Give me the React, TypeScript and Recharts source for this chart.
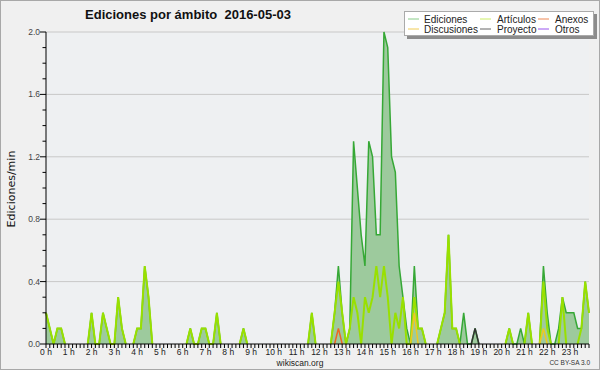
import React from "react";
import { ComposedChart, Area, Line, XAxis, YAxis, CartesianGrid } from "recharts";

// Ediciones por minuto, un valor cada 10 minutos (6 por hora, 144 en el día)
const ediciones = [
  0.2, 0.1, 0, 0.1, 0.1, 0, 0, 0, 0, 0, 0, 0,
  0.2, 0, 0, 0.2, 0.1, 0, 0, 0.3, 0.1, 0, 0, 0,
  0.1, 0.1, 0.5, 0.3, 0, 0, 0, 0, 0, 0, 0, 0,
  0, 0, 0.1, 0, 0, 0.1, 0.1, 0, 0, 0.2, 0, 0,
  0, 0, 0, 0, 0.1, 0, 0, 0, 0, 0, 0, 0,
  0, 0, 0, 0, 0, 0, 0, 0, 0, 0, 0.2, 0,
  0, 0, 0, 0, 0.2, 0.5, 0.2, 0, 0.1, 1.3, 1.0, 0.7,
  0.5, 1.3, 1.2, 0.7, 0.7, 2.0, 1.9, 1.2, 1.1, 0.5, 0.3, 0.1,
  0, 0.5, 0.1, 0.1, 0, 0, 0, 0, 0.1, 0.2, 0.7, 0.1,
  0.1, 0, 0.2, 0, 0, 0.1, 0, 0, 0, 0, 0, 0,
  0, 0, 0.1, 0, 0, 0.1, 0, 0.2, 0, 0, 0, 0.5,
  0.2, 0, 0, 0.1, 0.3, 0.2, 0.2, 0.2, 0.1, 0.1, 0.4, 0.2,
];

const articulos = [
  0.2, 0.1, 0, 0.1, 0.1, 0, 0, 0, 0, 0, 0, 0,
  0.2, 0, 0, 0.2, 0.1, 0, 0, 0.3, 0.1, 0, 0, 0,
  0.1, 0.1, 0.5, 0.3, 0, 0, 0, 0, 0, 0, 0, 0,
  0, 0, 0.1, 0, 0, 0.1, 0.1, 0, 0, 0.2, 0, 0,
  0, 0, 0, 0, 0.1, 0, 0, 0, 0, 0, 0, 0,
  0, 0, 0, 0, 0, 0, 0, 0, 0, 0, 0.2, 0,
  0, 0, 0, 0, 0.2, 0.4, 0.2, 0, 0.1, 0.3, 0.2, 0,
  0.3, 0.2, 0.3, 0.5, 0.3, 0.5, 0.3, 0, 0.2, 0.1, 0.3, 0,
  0, 0.3, 0.1, 0.1, 0, 0, 0, 0, 0.1, 0.2, 0.7, 0.1,
  0.1, 0, 0, 0, 0, 0, 0, 0, 0, 0, 0, 0,
  0, 0, 0.1, 0, 0, 0, 0, 0.2, 0, 0, 0, 0.4,
  0.1, 0, 0, 0, 0.3, 0, 0, 0, 0, 0.1, 0.4, 0.2,
];

// series casi vacías: [índice, valor]
const anexosPts: [number, number][] = [[77, 0.1]];
const discusionesPts: [number, number][] = [[97, 0.2], [131, 0.1]];
const proyectoPts: [number, number][] = [[113, 0.1]];
const otrosPts: [number, number][] = [];

const hourLabels = Array.from({ length: 24 }, (_, h) => `${h} h`);
const yMajor = [0, 0.4, 0.8, 1.2, 1.6, 2.0];
const yTicks = Array.from({ length: 21 }, (_, k) => k / 10);
const slotTicks = ediciones.map((_, i) => i);

const legendItems = [
  { name: "Ediciones", color: "#88cc88" },
  { name: "Discusiones", color: "#f0cc55" },
  { name: "Artículos", color: "#ccee66" },
  { name: "Proyecto", color: "#666666" },
  { name: "Anexos", color: "#ee8855" },
  { name: "Otros", color: "#9955ee" },
];

const fromPts = (pts: [number, number][]) => {
  const arr = ediciones.map(() => 0);
  pts.forEach(([i, v]) => (arr[i] = v));
  return arr;
};

// keep zeros only next to a non zero value, so nothing runs along the baseline
const trim = (arr: number[], i: number) =>
  arr[i] > 0 || (arr[i - 1] ?? 0) > 0 || (arr[i + 1] ?? 0) > 0 ? arr[i] : null;

const anexos = fromPts(anexosPts);
const discusiones = fromPts(discusionesPts);
const proyecto = fromPts(proyectoPts);
const otros = fromPts(otrosPts);

const data = ediciones.map((_, i) => ({
  slot: i,
  ed: trim(ediciones, i),
  art: trim(articulos, i),
  anx: trim(anexos, i),
  dis: trim(discusiones, i),
  pro: trim(proyecto, i),
  otr: trim(otros, i),
}));

const FONT = "'Liberation Sans', Arial, sans-serif";

const XTick = (props: any) => {
  const { x, y, payload } = props;
  const v = payload.value as number;
  return (
    <g>
      <line x1={x} x2={x} y1={y} y2={y + 4} stroke="#000" strokeWidth={1} />
      {v % 6 === 0 && (
        <text x={x} y={y + 10.5} textAnchor="middle" fontSize={8.5} fontFamily={FONT} fill="#222">
          {hourLabels[v / 6]}
        </text>
      )}
    </g>
  );
};

const YTick = (props: any) => {
  const { x, y, payload } = props;
  const v = payload.value as number;
  const major = yMajor.some((m) => Math.abs(m - v) < 1e-6);
  return (
    <g>
      <line x1={x - (major ? 6 : 3.5)} x2={x} y1={y} y2={y} stroke="#000" strokeWidth={1} />
      {major && (
        <text x={x - 6} y={y + 3} textAnchor="end" fontSize={8.5} fontFamily={FONT} fill="#444">
          {v.toFixed(1)}
        </text>
      )}
    </g>
  );
};

export default function App() {
  return (
    <div
      style={{
        position: "fixed",
        left: 0,
        top: 0,
        width: 600,
        height: 370,
        background: "#f0f0f0",
        boxSizing: "border-box",
        border: "1px solid #a8a8a8",
      }}
    >
      <div style={{ position: "absolute", left: -1, top: -1 }}>
        <ComposedChart width={600} height={370} data={data} margin={{ top: 32, right: 11, bottom: 6, left: 6 }}>
          <CartesianGrid
            vertical={false}
            horizontalValues={[0.4, 0.8, 1.2, 1.6, 2.0]}
            stroke="#c8c8c8"
            fill="#eef0f2"
            fillOpacity={1}
          />
          <XAxis
            dataKey="slot"
            type="number"
            domain={[0, 143]}
            ticks={slotTicks}
            interval={0}
            tickSize={0}
            tickMargin={0}
            tickLine={false}
            height={20}
            axisLine={{ stroke: "#000" }}
            tick={<XTick />}
          />
          <YAxis
            type="number"
            domain={[0, 2]}
            ticks={yTicks}
            interval={0}
            width={40}
            tickSize={0}
            tickMargin={0}
            tickLine={false}
            axisLine={{ stroke: "#000" }}
            tick={<YTick />}
          />
          <Area
            dataKey="ed"
            type="linear"
            stroke="#36a836"
            strokeWidth={1.5}
            fill="#9dca9d"
            fillOpacity={1}
            dot={false}
            activeDot={false}
            isAnimationActive={false}
          />
          <Line dataKey="art" type="linear" stroke="#99e000" strokeWidth={2} dot={false} activeDot={false} isAnimationActive={false} />
          <Line dataKey="anx" type="linear" stroke="#ee6622" strokeWidth={1.5} dot={false} activeDot={false} isAnimationActive={false} />
          <Line dataKey="dis" type="linear" stroke="#eec822" strokeWidth={1.5} dot={false} activeDot={false} isAnimationActive={false} />
          <Line dataKey="pro" type="linear" stroke="#333333" strokeWidth={1.5} dot={false} activeDot={false} isAnimationActive={false} />
          <Line dataKey="otr" type="linear" stroke="#9933ee" strokeWidth={1.5} dot={false} activeDot={false} isAnimationActive={false} />
        </ComposedChart>
      </div>
      <svg
        width={600}
        height={370}
        style={{ position: "absolute", left: -1, top: -1, pointerEvents: "none" }}
      >
        <text
          x={188}
          y={19}
          textAnchor="middle"
          fontSize={13}
          fontWeight="bold"
          fontFamily={FONT}
          fill="#111"
          style={{ whiteSpace: "pre" }}
        >
          {"Ediciones por ámbito  2016-05-03"}
        </text>
        <text
          x={15}
          y={189}
          transform="rotate(-90 15 189)"
          textAnchor="middle"
          fontSize={11}
          fontFamily="'DejaVu Sans', sans-serif"
          fill="#111"
        >
          Ediciones/min
        </text>
        <text x={300} y={366} textAnchor="middle" fontSize={8.5} fontFamily={FONT} fill="#222">
          wikiscan.org
        </text>
        <text x={590} y={365} textAnchor="end" fontSize={6.5} fontFamily={FONT} fill="#333">
          CC BY-SA 3.0
        </text>
        <rect x={407} y={14} width={190} height={25} fill="#8c8c8c" />
        <rect x={404.5} y={11.5} width={189} height={24} fill="#fff" stroke="#aaa" strokeWidth={1} />
        {legendItems.map((it, k) => {
          const col = Math.floor(k / 2);
          const row = k % 2;
          const lx = [408, 480, 538][col];
          const tx = [424, 497, 555][col];
          const ly = 19 + row * 10;
          return (
            <g key={it.name}>
              <line x1={lx} x2={lx + 11} y1={ly} y2={ly} stroke={it.color} strokeWidth={1} />
              <text x={tx} y={ly + 3.5} fontSize={10} fontFamily={FONT} fill="#222">
                {it.name}
              </text>
            </g>
          );
        })}
      </svg>
    </div>
  );
}
